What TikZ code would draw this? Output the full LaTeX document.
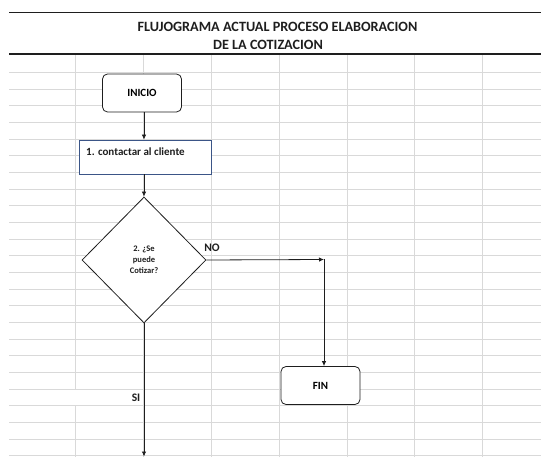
\documentclass[tikz,border=0pt]{standalone}
\usepackage{fontspec}
\setmainfont{Carlito}
\usetikzlibrary{shapes.geometric,arrows.meta}
\definecolor{gridgray}{HTML}{D9D9D9}
\definecolor{boxblue}{HTML}{3B5587}
\definecolor{ink}{HTML}{1E1E1E}
\begin{document}
\begin{tikzpicture}[x=1pt,y=-1pt,
  gridline/.style={draw=gridgray,line width=0.9pt},
  rule/.style={draw=ink,line width=1.8pt},
  terminal/.style={draw=ink,fill=white,rounded corners=5pt,line width=0.8pt,
    minimum width=79pt,minimum height=38pt,inner sep=0pt,
    font=\fontsize{11}{13}\selectfont\bfseries},
  process/.style={draw=boxblue,fill=white,line width=0.8pt,
    minimum width=132pt,minimum height=34pt,inner sep=0pt},
  decision/.style={diamond,aspect=1,draw=ink,fill=white,line width=0.8pt,
    minimum width=124pt,minimum height=126pt,inner sep=0pt,align=center,
    font=\fontsize{8.5}{11.2}\selectfont\bfseries},
  flow/.style={draw=ink,line width=0.8pt,-{Latex[length=5pt,width=4.5pt]}},
  tag/.style={font=\fontsize{11.5}{13}\selectfont\bfseries,text=ink,inner sep=0pt},
  titletext/.style={font=\fontsize{14.2}{16}\selectfont\bfseries,text=ink,inner sep=0pt}]

\useasboundingbox (0,0) rectangle (541,457);

% spreadsheet grid
\foreach \k in {0,...,23}
  \draw[gridline] (9,{72.3+16.67*\k}) -- (541,{72.3+16.67*\k});
\foreach \cx in {143,211,279,347,414,482}
  \draw[gridline] (\cx,54) -- (\cx,457);
\draw[gridline] (75.5,54) -- (75.5,389.6);
\draw[gridline] (75.5,406.3) -- (75.5,457);

% title band
\draw[rule] (9,12.5) -- (541,12.5);
\draw[rule] (9,54) -- (541,54);
\node[titletext] (title1) at (277.5,26.5) {FLUJOGRAMA ACTUAL PROCESO ELABORACION};
\node[titletext] (title2) at (268,45) {DE LA COTIZACION};

% flowchart
\node[terminal] (inicio) at (142,93) {INICIO};
\node[process] (contact) at (145,157) {};
\node[anchor=west,inner sep=0pt,font=\fontsize{11}{13}\selectfont\bfseries,text=ink]
  (contacttext) at (86,152) {1. contactar al cliente};
\node[decision,text=ink] (cotizar) at (144,260) {2. ¿Se\\puede\\Cotizar?};
\node[terminal] (fin) at (320.5,385.5) {FIN};
\coordinate (turn) at (324,259.5);
\coordinate (siend) at (144,456.5);

\draw[flow] (inicio.south -| 144,0) -- (contact.north -| 144,0);
\draw[flow] (contact.south -| 144,0) -- (cotizar.north);
\draw[flow] (cotizar.east) -- (turn);
\draw[flow] (turn) -- (fin.north -| turn);
\draw[flow] (cotizar.south) -- (siend);

\node[tag] (nolabel) at (212,248) {NO};
\node[tag] (silabel) at (136,398) {SI};
\end{tikzpicture}
\end{document}
